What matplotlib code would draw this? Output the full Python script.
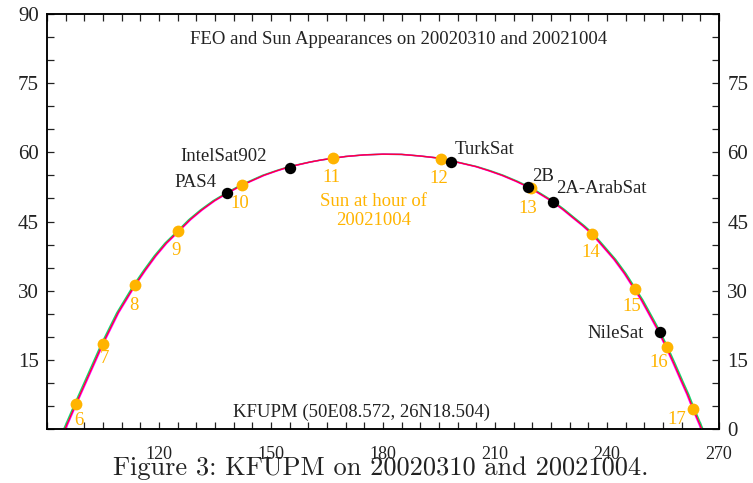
import matplotlib
matplotlib.use("Agg")
import matplotlib.pyplot as plt

# Sun path (azimuth, elevation); three nearly identical tracks
track_el = [0.0, 5.4, 18.5, 25.2, 31.2, 34.4, 37.5, 40.3, 42.9, 45.4, 47.5, 49.5, 51.1, 52.9, 55.0,
            56.0, 56.9, 57.9, 58.35, 58.7, 59.1, 59.45, 59.6, 59.55, 59.2, 58.7, 56.9, 56.0, 55.0, 53.7,
            52.2, 49.3, 47.6, 45.8, 44.1, 42.3, 39.6, 36.8, 33.7, 30.4, 28.0, 25.5, 21.8, 17.7, 14.1,
            10.4, 7.5, 4.4, 0.0]
track_green_az = [94.5, 97.4, 104.6, 108.7, 113.2, 115.9, 118.7, 121.6, 124.9, 128.0, 131.1, 134.5, 137.8, 141.9, 147.7,
                  151.3, 154.8, 160.4, 163.5, 166.5, 170.0, 175.0, 180.0, 185.0, 190.0, 195.6, 205.2, 208.8, 212.3, 216.1,
                  220.0, 225.8, 228.6, 231.3, 233.9, 236.4, 239.3, 242.3, 245.1, 247.7, 249.6, 251.3, 253.8, 256.3, 258.3,
                  260.3, 261.9, 263.4, 265.7]
track_magenta_az = [95.0, 97.9, 105.1, 109.2, 113.7, 116.4, 119.2, 122.1, 125.4, 128.5, 131.6, 135.0, 138.3, 142.4, 148.2,
                    151.7, 155.2, 160.6, 163.5, 166.5, 170.0, 175.0, 180.0, 185.0, 190.0, 195.4, 204.8, 208.3, 211.8, 215.6,
                    219.5, 225.3, 228.1, 230.8, 233.4, 235.9, 238.8, 241.8, 244.6, 247.2, 249.1, 250.8, 253.3, 255.8, 257.8,
                    259.8, 261.4, 262.9, 265.2]
track_red_az = [94.8, 97.7, 104.9, 109.0, 113.5, 116.2, 119.0, 121.9, 125.2, 128.3, 131.4, 134.8, 138.1, 142.2, 148.0,
                151.5, 155.0, 160.5, 163.5, 166.5, 170.0, 175.0, 180.0, 185.0, 190.0, 195.5, 205.0, 208.5, 212.0, 215.8,
                219.7, 225.5, 228.3, 231.0, 233.6, 236.1, 239.0, 242.0, 244.8, 247.4, 249.3, 251.0, 253.5, 256.0, 258.0,
                260.0, 261.6, 263.1, 265.4]

# Sun at each hour of 20021004
sun_hours = ["6", "7", "8", "9", "10", "11", "12", "13", "14", "15", "16", "17"]
sun_az = [97.7, 104.9, 113.5, 125.2, 142.2, 166.5, 195.5, 219.7, 236.1, 247.4, 256.0, 263.1]
sun_el = [5.4, 18.5, 31.2, 42.9, 52.9, 58.8, 58.6, 52.2, 42.3, 30.4, 17.7, 4.4]

# Satellites
sat_names = ["PAS4", "IntelSat902", "TurkSat", "2B", "2A-ArabSat", "NileSat"]
sat_az = [138.1, 155.1, 198.1, 218.9, 225.5, 254.3]
sat_el = [51.1, 56.5, 58.0, 52.5, 49.3, 21.1]

x_ticklabels = ["120", "150", "180", "210", "240", "270"]
left_ticklabels = ["15", "30", "45", "60", "75", "90"]
right_ticklabels = ["0", "15", "30", "45", "60", "75"]

ORANGE = "#ffb400"
INK = "#222222"
SERIF = ["Liberation Serif", "DejaVu Serif"]
FS = 13.5

# label offsets in pixels (dx, dy) and alignment
hour_offsets = [(3, -16), (2, -15), (-1, -20), (-2, -19), (-2, -18), (-1, -20),
                (-2, -20), (-3, -20), (-2, -19), (-3, -18), (-8, -15), (-16, -11)]
sat_offsets = [(-10, 11), (-23, 12), (4, 12), (4, 10), (3, 13), (-17, -2)]
sat_align = ["right", "right", "left", "left", "left", "right"]

plt.rcParams["font.family"] = SERIF

fig = plt.figure(figsize=(7.53, 4.83), dpi=100)
ax = fig.add_axes([0.0624, 0.1118, 0.8924, 0.8592])

ax.plot(track_green_az, track_el, color="#10d870", lw=1.1, zorder=2)
ax.plot(track_magenta_az, track_el, color="#ff00ff", lw=1.1, zorder=2)
ax.plot(track_red_az, track_el, color="#ff0033", lw=0.9, zorder=3)

ax.plot(sun_az, sun_el, "o", color=ORANGE, ms=8.5, mec="none", zorder=4)
ax.plot(sat_az, sat_el, "o", color="black", ms=8.2, mec="none", zorder=5)

for lab, x, y, off in zip(sun_hours, sun_az, sun_el, hour_offsets):
    ax.annotate(lab, (x, y), xytext=off, textcoords="offset pixels",
                ha="center", va="center", color=ORANGE, fontsize=FS)

for lab, x, y, off, ha in zip(sat_names, sat_az, sat_el, sat_offsets, sat_align):
    ax.annotate(lab, (x, y), xytext=off, textcoords="offset pixels",
                ha=ha, va="center", color=INK, fontsize=FS)

ax.text(184.3, 84.4, "FEO and Sun Appearances on 20020310 and 20021004",
        ha="center", va="center", fontsize=FS, color=INK)
ax.text(177.5, 47.3, "Sun at hour of\n20021004", ha="center", va="center",
        fontsize=FS, color=ORANGE, linespacing=1.2)
ax.text(174.2, 3.7, "KFUPM (50E08.572, 26N18.504)", ha="center", va="center",
        fontsize=FS, color=INK)

ax.set_xlim(90, 270)
ax.set_ylim(0, 90)

xt = list(range(90, 271, 5))
ax.set_xticks(xt)
ax.set_xticklabels([t if t in x_ticklabels else "" for t in map(str, xt)])
yt = list(range(0, 91, 5))
ax.set_yticks(yt)
ax.set_yticklabels([t if t in left_ticklabels else "" for t in map(str, yt)])
ax.tick_params(direction="in", length=5, width=0.9, top=True, colors=INK)
ax.tick_params(axis="x", pad=12, labelsize=13)
ax.tick_params(axis="y", pad=6, labelsize=15)

ax2 = ax.twinx()
ax2.set_ylim(0, 90)
ax2.set_yticks(yt)
ax2.set_yticklabels([t if t in right_ticklabels else "" for t in map(str, yt)])
ax2.tick_params(direction="in", length=5, width=0.9, labelsize=15, pad=6, colors=INK)

for a in (ax, ax2):
    for s in a.spines.values():
        s.set_linewidth(1.1)

fig.text(0.506, 0.017, "Figure 3: KFUPM on 20020310 and 20021004.",
         ha="center", va="baseline", fontsize=19, family=["cmr10", "DejaVu Serif"], color=INK)

fig.savefig("out.png", dpi=100)
